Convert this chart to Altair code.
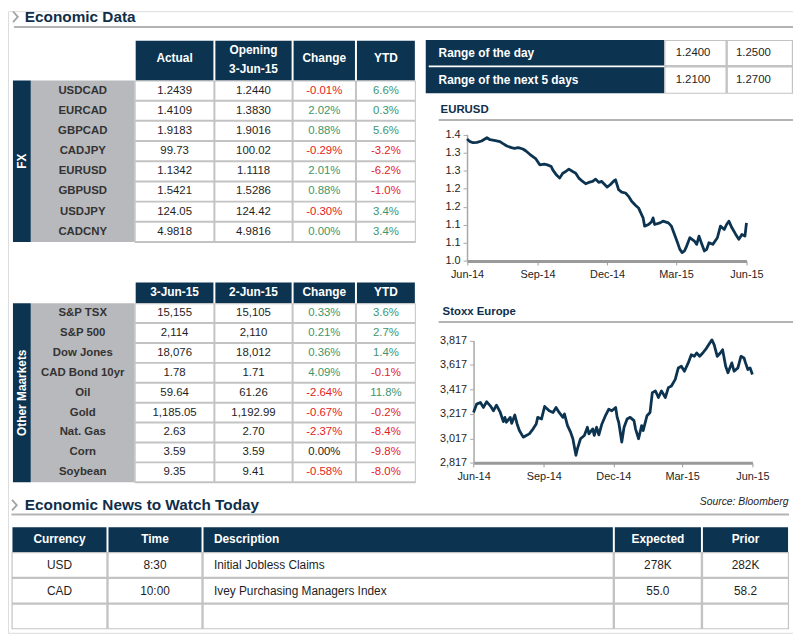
import altair as alt
import pandas as pd

# ------------------------------------------------------------------ data
fx_pairs = ["USDCAD", "EURCAD", "GBPCAD", "CADJPY", "EURUSD", "GBPUSD", "USDJPY", "CADCNY"]
fx_actual = ["1.2439", "1.4109", "1.9183", "99.73", "1.1342", "1.5421", "124.05", "4.9818"]
fx_opening = ["1.2440", "1.3830", "1.9016", "100.02", "1.1118", "1.5286", "124.42", "4.9816"]
fx_change = [-0.01, 2.02, 0.88, -0.29, 2.01, 0.88, -0.30, 0.00]
fx_ytd = [6.6, 0.3, 5.6, -3.2, -6.2, -1.0, 3.4, 3.4]
fx_headers = ["Actual", "Opening\n3-Jun-15", "Change", "YTD"]

mk_names = ["S&P TSX", "S&P 500", "Dow Jones", "CAD Bond 10yr", "Oil", "Gold", "Nat. Gas", "Corn", "Soybean"]
mk_today = ["15,155", "2,114", "18,076", "1.78", "59.64", "1,185.05", "2.63", "3.59", "9.35"]
mk_prev = ["15,105", "2,110", "18,012", "1.71", "61.26", "1,192.99", "2.70", "3.59", "9.41"]
mk_change = [0.33, 0.21, 0.36, 4.09, -2.64, -0.67, -2.37, 0.00, -0.58]
mk_ytd = [3.6, 2.7, 1.4, -0.1, 11.8, -0.2, -8.4, -9.8, -8.0]
mk_headers = ["3-Jun-15", "2-Jun-15", "Change", "YTD"]

range_labels = ["Range of the day", "Range of the next 5 days"]
range_low = ["1.2400", "1.2100"]
range_high = ["1.2500", "1.2700"]

news_headers = ["Currency", "Time", "Description", "Expected", "Prior"]
news_currency = ["USD", "CAD", ""]
news_time = ["8:30", "10:00", ""]
news_desc = ["Initial Jobless Claims", "Ivey Purchasing Managers Index", ""]
news_expected = ["278K", "55.0", ""]
news_prior = ["282K", "58.2", ""]

# EURUSD, days after 3-Jun-14 and level
eur_days = [0, 4, 8, 13, 19, 26, 30, 37, 43, 47, 52, 58, 62, 67, 73, 77, 82, 86, 90, 95,
            101, 105, 110, 112, 116, 121, 125, 129, 133, 138, 142, 146, 151, 155, 159, 164, 168, 172, 176, 181,
            183, 187, 192, 194, 198, 202, 207, 211, 215, 220, 224, 228, 230, 232, 237, 241, 243, 245, 252, 256,
            263, 267, 271, 275, 278, 281, 284, 286, 291, 297, 300, 303, 306, 310, 313, 316, 321, 327, 331, 336,
            339, 342, 346, 351, 355, 359, 363, 365]
eur_vals = [1.3853, 1.3770, 1.3738, 1.3749, 1.3791, 1.3895, 1.3832, 1.3801, 1.3770, 1.3707,
            1.3634, 1.3581, 1.3560, 1.3581, 1.3539, 1.3476, 1.3372, 1.3298, 1.3225, 1.3037,
            1.3058, 1.3037, 1.2984, 1.2880, 1.2743, 1.2618, 1.2775, 1.2827, 1.2901, 1.2827,
            1.2775, 1.2618, 1.2513, 1.2440, 1.2482, 1.2513, 1.2586, 1.2482, 1.2513, 1.2387,
            1.2335, 1.2408, 1.2534, 1.2565, 1.2251, 1.2178, 1.2147, 1.2042, 1.1885, 1.1759,
            1.1675, 1.1466, 1.1361, 1.1099, 1.1152, 1.1236, 1.1361, 1.1152, 1.1204, 1.1257,
            1.1204, 1.1099, 1.0838, 1.0576, 1.0366, 1.0262, 1.0314, 1.0419, 1.0733, 1.0628,
            1.0524, 1.0785, 1.0576, 1.0314, 1.0366, 1.0576, 1.0524, 1.0733, 1.1099, 1.0995,
            1.1152, 1.1257, 1.1047, 1.0838, 1.0681, 1.0838, 1.0785, 1.1204]
eur_ticks = [1.0, 1.0571, 1.1143, 1.1714, 1.2286, 1.2857, 1.3429, 1.4]

stx_days = [0, 4, 9, 13, 17, 22, 26, 30, 35, 39, 41, 43, 48, 50, 54, 57, 60, 65, 69, 73,
            78, 82, 84, 89, 93, 99, 104, 108, 112, 117, 119, 123, 127, 130, 134, 136, 140, 145, 149, 151,
            156, 158, 161, 164, 168, 173, 177, 181, 186, 188, 190, 194, 197, 201, 205, 210, 212, 216, 220, 222,
            227, 231, 234, 238, 242, 246, 251, 255, 259, 264, 268, 272, 276, 281, 285, 289, 292, 296, 300, 305,
            309, 312, 315, 319, 323, 326, 330, 333, 338, 341, 346, 350, 354, 356, 359, 362, 365]
stx_vals = [3229, 3297, 3310, 3270, 3316, 3283, 3243, 3289, 3229, 3154,
            3189, 3149, 3189, 3140, 3208, 3135, 3081, 3027, 3041, 3054,
            3095, 3135, 3189, 3176, 3278, 3243, 3229, 3270, 3229, 3189,
            3216, 3122, 3068, 3014, 2879, 2933, 3014, 3041, 3108, 3054,
            3095, 3041, 3108, 3046, 3135, 3208, 3256, 3243, 3270, 3189,
            3149, 2987, 3108, 3176, 3189, 3162, 3095, 3014, 3122, 3081,
            3202, 3229, 3391, 3405, 3351, 3405, 3351, 3432, 3445, 3499,
            3593, 3607, 3566, 3634, 3701, 3688, 3715, 3688, 3715, 3755,
            3795, 3822, 3782, 3688, 3715, 3742, 3607, 3553, 3634, 3566,
            3593, 3688, 3674, 3634, 3580, 3593, 3539]
stx_ticks = [2817, 3017, 3217, 3417, 3617, 3817]

# ------------------------------------------------------------------ style
NAVY = "#0c3350"
TITLE_NAVY = "#0f2e4a"
LABEL_BG = "#b8b9bc"
GRID = "#c3c3c3"
WHITE = "#ffffff"
RULE_GRAY = "#b4b4b4"
AXIS_GRAY = "#9a9a9a"
CHEV_GRAY = "#a3a3a3"
GREEN = "#3c966e"
RED = "#e3221e"
INK = "#1e1e1e"
LABEL_INK = "#333333"
FONT = "Liberation Sans, Arial, sans-serif"

# ------------------------------------------------------------------ layout (page pixels)
W, H = 793, 628
PX = alt.Scale(domain=[8, 8 + W], range=[0, W], nice=False, zero=False)
PY = alt.Scale(domain=[8, 8 + H], range=[0, H], nice=False, zero=False)

TAB_COLS = [136, 216.5, 295.5, 359.5, 420]
LABEL_X = (31, 136)
STRIP_X = (13, 31)
FX_HEAD = (38, 78)
FX_TOP, FX_RH = 78, 20.4
MK_HEAD = (282, 303)
MK_TOP, MK_RH = 303, 20.1

RANGE_DARK = (430, 671, 37, 91)
RANGE_COLS = [671, 734, 801]
RANGE_ROWS = [37, 63.7, 91.5]
RANGE_TEXT_X = [700, 761]

NEWS_COLS = [11.5, 108.5, 204.5, 620, 709, 797]
NEWS_ROWS = [529.3, 554.3, 580.5, 606.5, 632.5]
NEWS_DESC_X = 216

CHEVRONS = [(15.5, 13.7), (14.5, 507)]

EUR_X = (471.7, 754.0)
EUR_Y = (260.3, 132.5)
STX_X = (478.3, 760.0)
STX_Y = (464.3, 340.7)

rects, rules = [], []
txt = {}


def rect(x1, x2, y1, y2, fill):
    rects.append(dict(x=x1, x2=x2, y=y1, y2=y2, fill=fill))


def put(style, x, y, text, color):
    txt.setdefault(style, []).append(dict(x=x, y=y, text=text, color=color))


def sign_color(v, zero_color):
    return GREEN if v > 0 else (RED if v < 0 else zero_color)


def data_table(headers, head, top, rh, names, col1, col2, chg, ytd, strip_text, zero_color):
    n = len(names)
    bottom = top + n * rh
    for i in range(4):
        c0, c1 = TAB_COLS[i], TAB_COLS[i + 1]
        rect(c0 + 1, c1 - 1, head[0], head[1], NAVY)
        cx = (c0 + c1) / 2
        parts = headers[i].split("\n")
        if len(parts) == 2:
            put("head", cx, head[0] + 9.5, parts[0], WHITE)
            put("head", cx, head[0] + 28, parts[1], WHITE)
        else:
            put("head", cx, (head[0] + head[1]) / 2 - (3 if head[1] - head[0] > 30 else 1), parts[0], WHITE)
    rect(TAB_COLS[0], TAB_COLS[-1], top, bottom + 1, GRID)
    rect(LABEL_X[0], LABEL_X[1], top, bottom, LABEL_BG)
    rect(STRIP_X[0], STRIP_X[1], top, bottom, NAVY)
    put("strip", (STRIP_X[0] + STRIP_X[1]) / 2, (top + bottom) / 2, strip_text, WHITE)
    for r in range(n):
        y0 = top + r * rh
        cy = y0 + rh / 2
        put("label", (LABEL_X[0] + LABEL_X[1]) / 2, cy, names[r], LABEL_INK)
        cells = [(col1[r], INK), (col2[r], INK),
                 (f"{chg[r]:.2f}%", sign_color(chg[r], zero_color)),
                 (f"{ytd[r]:.1f}%", sign_color(ytd[r], zero_color))]
        for i, (t, col) in enumerate(cells):
            c0, c1 = TAB_COLS[i], TAB_COLS[i + 1]
            rect(c0 + 1, c1 - 1, y0 + 1, y0 + rh - 1, WHITE)
            put("num", (c0 + c1) / 2, cy, t, col)


data_table(fx_headers, FX_HEAD, FX_TOP, FX_RH, fx_pairs, fx_actual, fx_opening, fx_change, fx_ytd, "FX", GREEN)
data_table(mk_headers, MK_HEAD, MK_TOP, MK_RH, mk_names, mk_today, mk_prev, mk_change, mk_ytd,
           "Other Maarkets", INK)

# range box
rect(*RANGE_DARK, NAVY)
rect(RANGE_DARK[0] + 3, RANGE_DARK[1], RANGE_ROWS[1] - 0.9, RANGE_ROWS[1] + 0.9, WHITE)
rect(RANGE_COLS[0], RANGE_COLS[-1], RANGE_ROWS[0], RANGE_ROWS[-1], GRID)
for r in range(2):
    y0, y1 = RANGE_ROWS[r], RANGE_ROWS[r + 1]
    cy = (y0 + y1) / 2
    put("rangelabel", 443, cy, range_labels[r], WHITE)
    for i, v in enumerate([range_low[r], range_high[r]]):
        rect(RANGE_COLS[i] + 1.2, RANGE_COLS[i + 1] - 1.2, y0 + 1.2, y1 - 1.2, WHITE)
        put("num", RANGE_TEXT_X[i], cy, v, INK)

# news table
rect(NEWS_COLS[0], NEWS_COLS[-1], NEWS_ROWS[1], NEWS_ROWS[-1], GRID)
news_rows = list(zip(news_currency, news_time, news_desc, news_expected, news_prior))
for i in range(5):
    c0, c1 = NEWS_COLS[i], NEWS_COLS[i + 1]
    rect(c0 + 1, c1 - 1, NEWS_ROWS[0], NEWS_ROWS[1], NAVY)
    hy = (NEWS_ROWS[0] + NEWS_ROWS[1]) / 2 - 0.5
    if i == 2:
        put("newshead_l", NEWS_DESC_X, hy, news_headers[i], WHITE)
    else:
        put("newshead", (c0 + c1) / 2, hy, news_headers[i], WHITE)
    for r, row in enumerate(news_rows):
        y0, y1 = NEWS_ROWS[r + 1], NEWS_ROWS[r + 2]
        rect(c0 + 1.2, c1 - 1.2, y0 + 1.2, y1 - 1.2, WHITE)
        if row[i]:
            if i == 2:
                put("news_l", NEWS_DESC_X, (y0 + y1) / 2, row[i], INK)
            else:
                put("news", (c0 + c1) / 2, (y0 + y1) / 2, row[i], INK)

# section headings and rules
put("section", 25, 18.5, "Economic Data", TITLE_NAVY)
put("section", 25, 511.7, "Economic News to Watch Today", TITLE_NAVY)
put("ctitle", 445, 111, "EURUSD", TITLE_NAVY)
put("ctitle", 447, 315, "Stoxx Europe", TITLE_NAVY)
put("source", 796.5, 506.5, "Source: Bloomberg", INK)
rules += [dict(x=14, x2=801, y=24), dict(x=443, x2=801, y=118),
          dict(x=443, x2=801, y=322), dict(x=11.5, x2=797, y=516.5)]

# ------------------------------------------------------------------ charts
def xy():
    return dict(x=alt.X("x:Q", scale=PX, axis=None), y=alt.Y("y:Q", scale=PY, axis=None))


rect_layer = alt.Chart(pd.DataFrame(rects)).mark_rect().encode(
    x=alt.X("x:Q", scale=PX, axis=None), x2="x2:Q",
    y=alt.Y("y:Q", scale=PY, axis=None), y2="y2:Q",
    color=alt.Color("fill:N", scale=None))

rule_layer = alt.Chart(pd.DataFrame(rules)).mark_rule(strokeWidth=2, color=RULE_GRAY).encode(
    x=alt.X("x:Q", scale=PX, axis=None), x2="x2:Q", y=alt.Y("y:Q", scale=PY, axis=None))

chev_layer = alt.Chart(pd.DataFrame(CHEVRONS, columns=["x", "y"])).mark_point(
    shape="M -0.45 -1 L 0.45 0 L -0.45 1", filled=False, size=115, strokeWidth=1.8,
    color=CHEV_GRAY, opacity=1).encode(**xy())

STYLES = {
    "head": dict(fontSize=12, fontWeight="bold"),
    "strip": dict(fontSize=12, fontWeight="bold", angle=270),
    "label": dict(fontSize=11.5, fontWeight="bold"),
    "num": dict(fontSize=11.5),
    "rangelabel": dict(fontSize=12, fontWeight="bold", align="left"),
    "newshead": dict(fontSize=12, fontWeight="bold"),
    "newshead_l": dict(fontSize=12, fontWeight="bold", align="left"),
    "news": dict(fontSize=12),
    "news_l": dict(fontSize=12, align="left"),
    "section": dict(fontSize=15.5, fontWeight="bold", align="left", baseline="alphabetic"),
    "ctitle": dict(fontSize=11.5, fontWeight="bold", align="left", baseline="alphabetic"),
    "source": dict(fontSize=10.5, fontStyle="italic", align="right", baseline="alphabetic"),
}

text_layers = []
for style, rows in txt.items():
    opts = dict(align="center", baseline="middle", font=FONT)
    opts.update(STYLES[style])
    text_layers.append(
        alt.Chart(pd.DataFrame(rows)).mark_text(**opts).encode(
            text="text:N", color=alt.Color("color:N", scale=None), **xy()))


def to_dates(days):
    return [(pd.Timestamp("2014-06-03") + pd.Timedelta(days=int(d))).strftime("%Y-%m-%dT00:00:00")
            for d in days]


def dt(y, m, d):
    return alt.DateTime(year=y, month=m, date=d)


QUARTERS = [dt(2014, 6, 3), dt(2014, 9, 3), dt(2014, 12, 3), dt(2015, 3, 3), dt(2015, 6, 3)]


def line_chart(days, vals, xpix, ypix, ydomain, yticks, yfmt):
    df = pd.DataFrame({"date": to_dates(days), "value": vals})
    return alt.Chart(df).mark_line(color=NAVY, strokeWidth=2.8, strokeJoin="round").encode(
        x=alt.X("date:T",
                scale=alt.Scale(domain=[QUARTERS[0], QUARTERS[-1]], range=[xpix[0] - 8, xpix[1] - 8], nice=False),
                axis=alt.Axis(orient="bottom", offset=(ypix[0] - 8) - H, values=QUARTERS, format="%b-%y",
                              title=None, grid=False, domainColor=AXIS_GRAY, domainWidth=3,
                              tickColor=AXIS_GRAY, tickSize=4, labelFont=FONT, labelFontSize=11,
                              labelColor=INK, labelPadding=4, labelFlush=False, labelOverlap=False)),
        y=alt.Y("value:Q",
                scale=alt.Scale(domain=ydomain, range=[ypix[0] - 8, ypix[1] - 8], nice=False, zero=False),
                axis=alt.Axis(orient="left", offset=-(xpix[0] - 8), values=yticks, format=yfmt,
                              title=None, grid=False, domainColor="#a8a8a8", domainWidth=1.5,
                              tickColor="#a8a8a8", tickSize=4, labelFont=FONT, labelFontSize=11,
                              labelColor=INK, labelPadding=3, labelOverlap=False, labelFlush=False)))


eur_chart = line_chart(eur_days, eur_vals, EUR_X, EUR_Y, [1.0, 1.4], eur_ticks, ".1f")
stx_chart = line_chart(stx_days, stx_vals, STX_X, STX_Y, [2817, 3817], stx_ticks, ",.0f")

chart = alt.layer(rect_layer, rule_layer, chev_layer, *text_layers, eur_chart, stx_chart).resolve_scale(
    x="independent", y="independent", color="independent"
).properties(
    width=W, height=H, padding=0, autosize=alt.AutoSizeParams(type="none")
).configure_view(stroke=None).configure(background="white")

chart.save("out.html", embed_options={"renderer": "svg", "actions": False})
